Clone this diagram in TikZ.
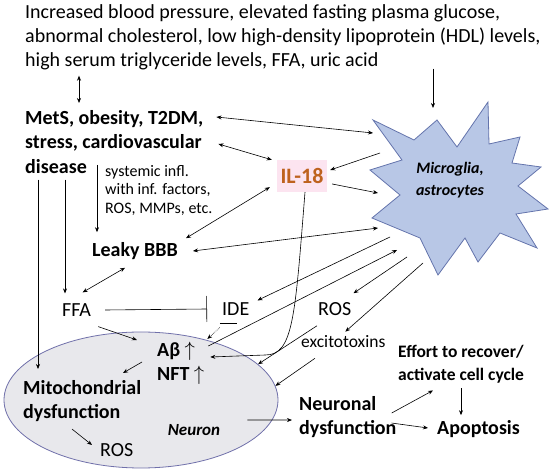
\documentclass[tikz,border=0pt]{standalone}
\usepackage{fontspec}
\setmainfont{Carlito}
\usetikzlibrary{arrows.meta, shapes.geometric, calc}

\definecolor{gliafill}{RGB}{184,199,230}
\definecolor{gliadraw}{RGB}{100,116,172}
\definecolor{cellfill}{RGB}{232,232,236}
\definecolor{celldraw}{RGB}{112,112,170}
\definecolor{ilpink}{RGB}{252,228,240}
\definecolor{ilorange}{RGB}{190,98,30}

\begin{document}
\begin{tikzpicture}[
    x=1pt, y=-1pt,
    txt/.style={inner sep=0pt, align=left, anchor=north west, font=\fontsize{20}{24}\selectfont},
    bold/.style={txt, font=\fontsize{20}{24.5}\selectfont\bfseries},
    small/.style={txt, font=\fontsize{16}{18.5}\selectfont},
    effortbox/.style={txt, font=\fontsize{17.5}{23}\selectfont\bfseries},
    arrow/.style={-{Stealth[length=5pt, width=4pt]}, line width=0.6pt},
    both/.style={{Stealth[length=5pt, width=4pt]}-{Stealth[length=5pt, width=4pt]}, line width=0.6pt},
]
\useasboundingbox (0,0) rectangle (550,470);

% Neuron (ellipse) and microglia (star)
\node[ellipse, draw=celldraw, fill=cellfill, line width=0.8pt, minimum width=274pt, minimum height=136pt] (cell) at (141,400) {};
\draw[draw=gliadraw, fill=gliafill, line width=0.8pt] (373,120) -- (414,140) -- (437,120) -- (457,147) -- (488,102)
  -- (489,144) -- (520,137) -- (512,163) -- (541,167) -- (518,186) -- (548,209) -- (516,214) -- (537,248)
  -- (500,233) -- (478,262) -- (465,238) -- (438,275) -- (420,238) -- (372,218) -- (400,195) -- (370,170)
  -- (402,160) -- cycle;
\node[align=center, font=\fontsize{16}{22}\selectfont\bfseries\itshape] (glia) at (450,180) {Microglia,\\ astrocytes};

% Texts
\node[txt] (risk) at (25,4) {Increased blood pressure, elevated fasting plasma glucose,\\ abnormal cholesterol, low high-density lipoprotein (HDL) levels,\\ high serum triglyceride levels, FFA, uric acid};
\node[bold] (mets) at (25,110) {MetS, obesity, T2DM,\\ stress, cardiovascular\\ disease};
\node[small] (infl) at (105,165) {systemic infl.\\ with inf. factors,\\ ROS, MMPs, etc.};
\node[bold, anchor=west] (bbb) at (92,251) {Leaky BBB};
\node[fill=ilpink, text=ilorange, font=\fontsize{22}{24}\selectfont\bfseries, minimum width=50pt, minimum height=32pt, inner sep=0pt] (il) at (302,176) {IL-18};
\node[txt, anchor=west] (ffa) at (62,310) {FFA};
\node[txt, anchor=west] (ide) at (222,309) {IDE};
\node[txt, anchor=west] (ros) at (318,309) {ROS};
\node[txt, anchor=west, font=\fontsize{17.5}{20}\selectfont] (exc) at (301,342) {excitotoxins};
\node[bold, anchor=west] (abeta) at (157,351) {Aβ~$\uparrow$};
\node[bold, anchor=west] (nft) at (157,375) {NFT~$\uparrow$};
\node[bold] (mito) at (23,380) {Mitochondrial\\ dysfunction};
\node[txt, anchor=west] (ros2) at (100,450) {ROS};
\node[font=\fontsize{17}{20}\selectfont\bfseries\itshape, inner sep=0pt] (neuron) at (194,430) {Neuron};
\node[bold] (ndys) at (299,396) {Neuronal\\ dysfunction};
\node[effortbox] (effort) at (398,345) {Effort to recover/\\ activate cell cycle};
\node[bold, anchor=west] (apop) at (437,429) {Apoptosis};

% Contact points on the star
\coordinate (g-top) at (433,108);
\coordinate (g-mets) at (373,133);
\coordinate (g-ilout) at (380,153);
\coordinate (g-ilin) at (378,193);
\coordinate (g-bbb) at (378,228);
\coordinate (g-ide) at (390,237);
\coordinate (g-ab) at (397,250);
\coordinate (g-ros) at (407,257);
\coordinate (g-exc) at (423,263);

% Risk factors
\draw[both] ($(risk.south west)+(54,6)$) -- ($(mets.north west)+(54,-7)$);
\draw[arrow] ($(risk.south west)+(408,-1)$) -- (g-top);

% Systemic links
\draw[both] ($(mets.north east)+(13,7)$) -- (g-mets);
\draw[both] ($(mets.north east)+(15,34)$) -- ($(il.north west)+(-5,0)$);
\draw[arrow] (g-ilout) -- ($(il.east)+(3,-6)$);
\draw[arrow] ($(il.east)+(5,8)$) -- (g-ilin);
\draw[both] ($(bbb.north east)+(8,-4)$) -- ($(il.south west)+(-7,-5)$);
\draw[both] ($(bbb.east)+(15,0)$) -- (g-bbb);
\draw[arrow] ($(infl.north west)+(-8,0)$) -- ($(bbb.north west)+(5,-10)$);
\draw[arrow] ($(mets.south west)+(13,6)$) -- ($(mito.north west)+(15,-11)$);
\draw[arrow] ($(mets.south west)+(40,6)$) -- ($(ffa.north west)+(3,-10)$);
\draw[both] ($(bbb.south)+(-10,8)$) -- ($(ffa.north)+(6,-11)$);

% FFA, IDE and A-beta
\draw[-{Bar[width=26pt]}, line width=0.6pt] ($(ffa.east)+(14,0)$) -- ($(ide.west)+(-15,0)$);
\draw[arrow] (g-ide) -- ($(ide.north east)+(8,-2)$);
\draw[line width=0.6pt] ($(ide.south)+(-16,8)$) -- ($(ide.south)+(1,8)$);
\draw[arrow, densely dotted] ($(ide.south)+(-16,12)$) -- ($(abeta.east)+(12,-12)$);
\draw[arrow] ($(abeta.east)+(13,-5)$) -- (g-ab);
\draw[arrow] ($(il.south)+(3,0)$) .. controls +(-10,125) and +(28,0) .. ($(abeta.east)+(70,4)$) -- ($(abeta.east)+(15,6)$);
\draw[arrow] ($(ffa.south east)+(7,10)$) -- ($(abeta.west)+(-20,-11)$);
\draw[arrow] ($(abeta.west)+(-15,11)$) -- ($(mito.north west)+(100,-7)$);

% Oxidative stress
\draw[arrow] (g-ros) -- ($(ros.north east)+(2,-9)$);
\draw[arrow] (g-exc) -- ($(exc.north)+(2,-4)$);
\draw[arrow] ($(ros.south west)+(-1,10)$) -- (cell.17);
\draw[arrow] ($(exc.south west)+(14,10)$) -- (cell.6);
\draw[arrow] ($(mito.south west)+(49,7)$) -- ($(ros2.west)+(-8,-5)$);

% Outcome
\draw[arrow] ($(neuron.east)+(27,-10)$) -- ($(ndys.west)+(-7,3)$);
\draw[arrow] ($(ndys.east)+(-5,-4)$) -- ($(effort.south west)+(35,7)$);
\draw[arrow] ($(ndys.east)+(-5,6)$) -- ($(apop.west)+(-9,-1)$);
\draw[arrow] ($(effort.south west)+(63,5)$) -- ($(apop.north west)+(24,-5)$);

\end{tikzpicture}
\end{document}
